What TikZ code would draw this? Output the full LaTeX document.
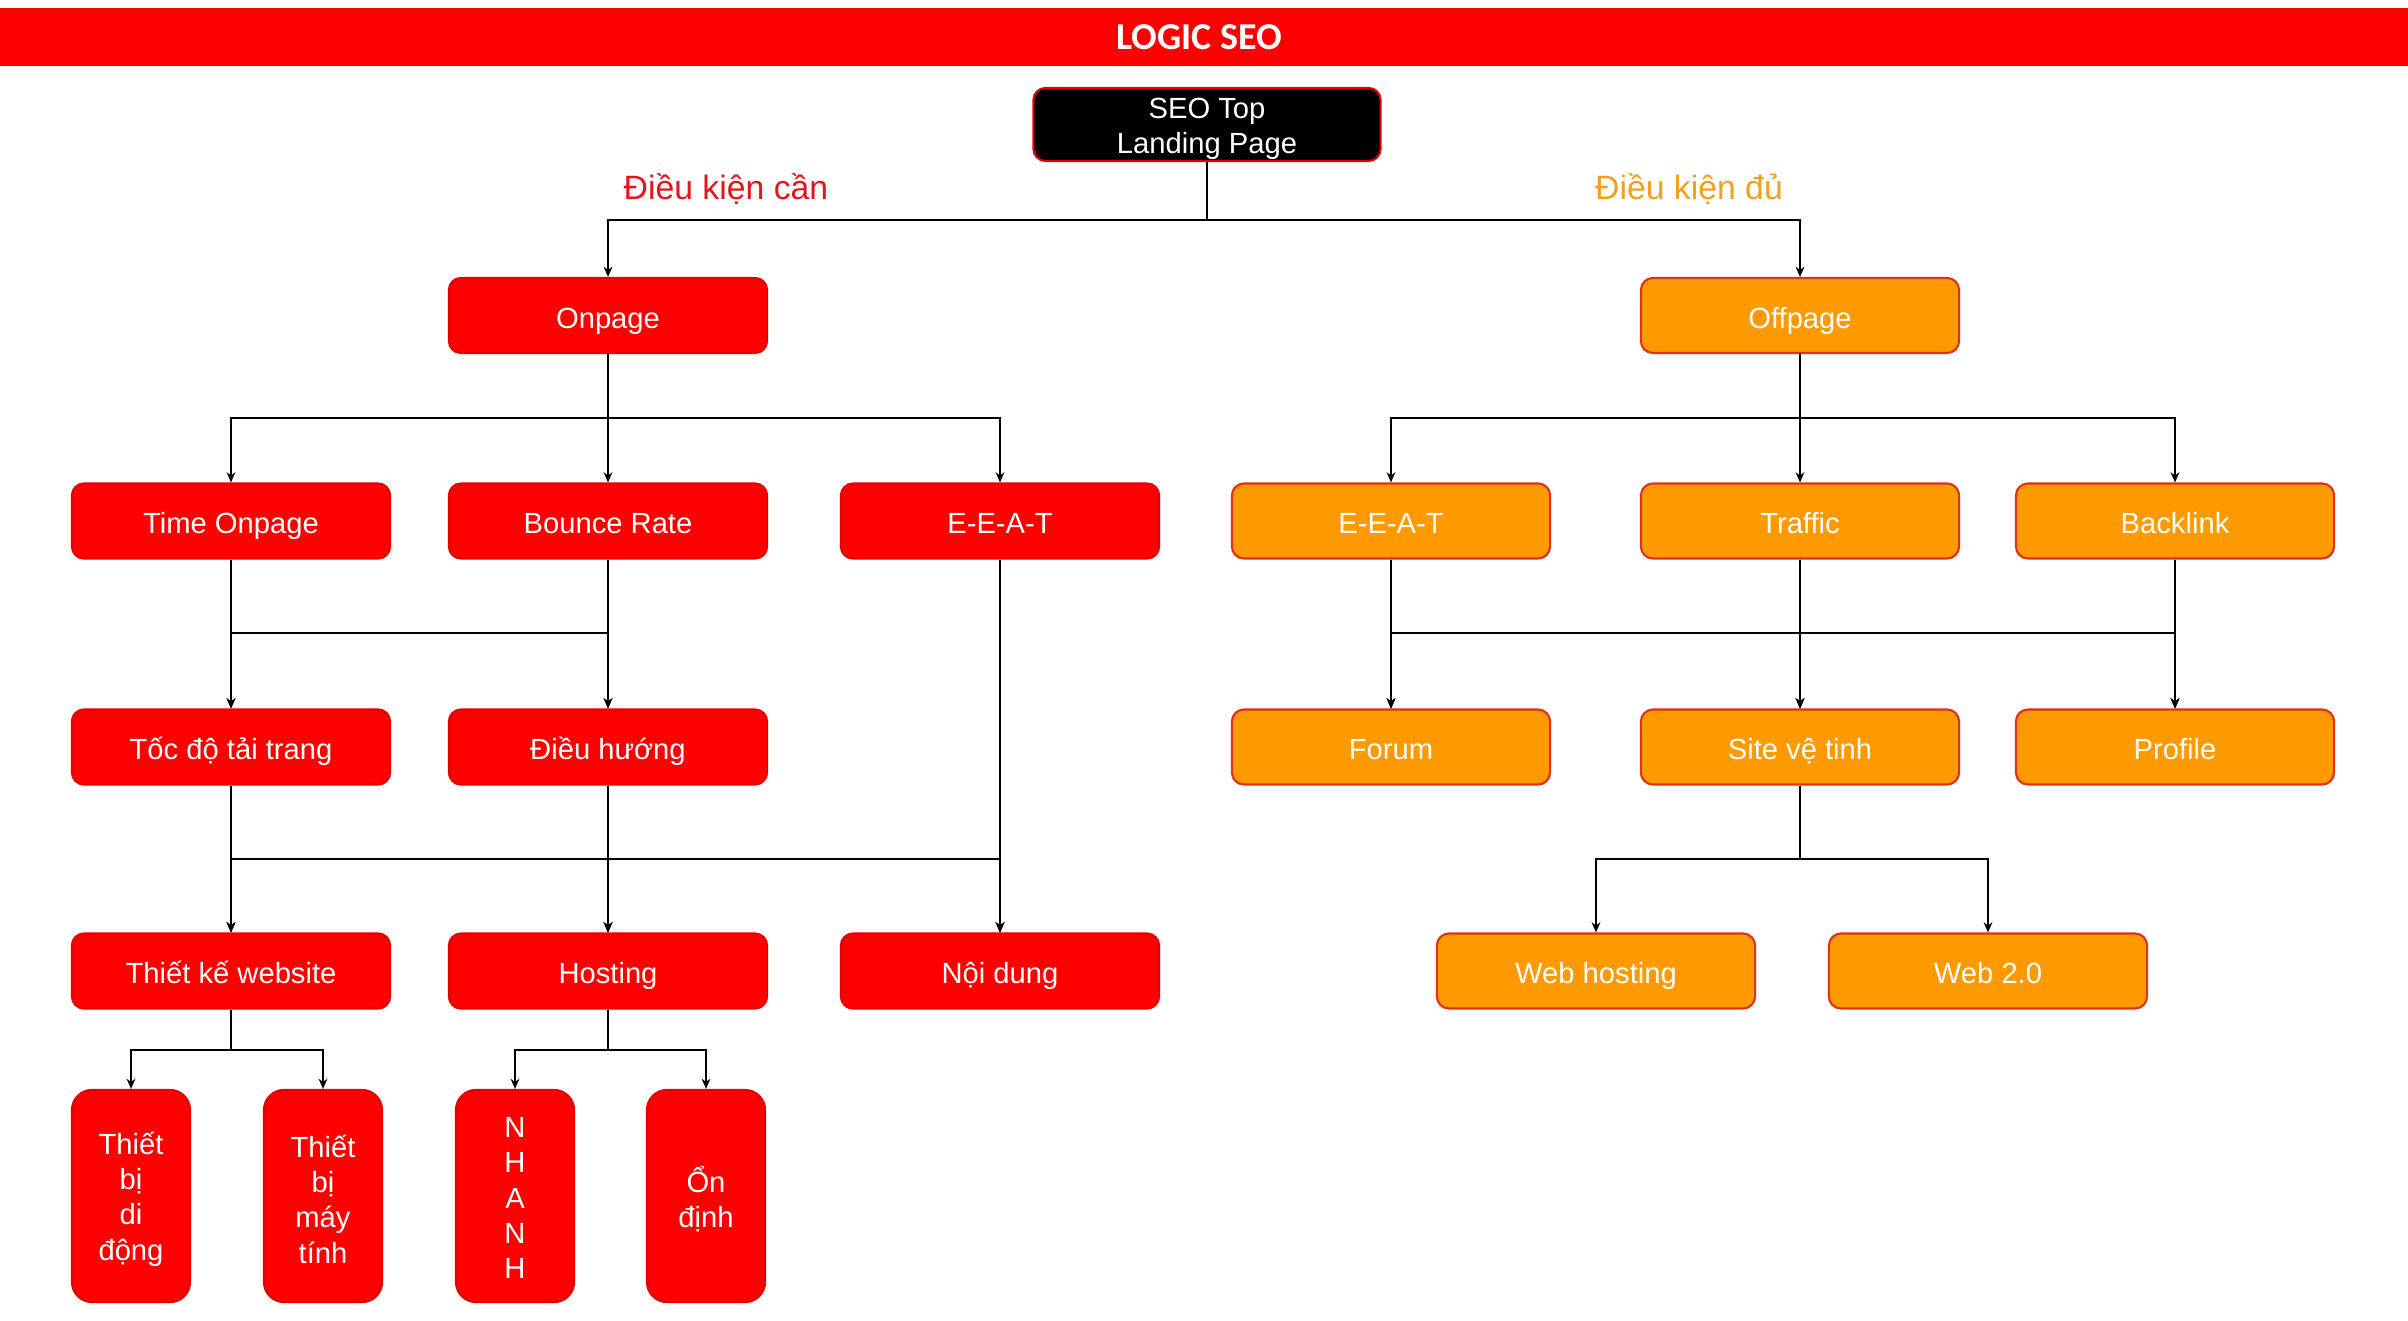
\documentclass[tikz,border=0pt]{standalone}
\usepackage{fontspec}
\setmainfont{Liberation Sans}
\newfontfamily\titlefont{Carlito}
\usetikzlibrary{arrows.meta}
\definecolor{rbox}{HTML}{FF0000}
\definecolor{rline}{HTML}{E60000}
\definecolor{obox}{HTML}{FF9900}
\definecolor{oline}{HTML}{E0301A}
\definecolor{otext}{HTML}{F2A01E}
\definecolor{rtext}{HTML}{E8141C}
\tikzset{
  box/.style={rounded corners=0.12cm, minimum width=3.18cm, minimum height=0.75cm, inner sep=0pt, align=center, text=white, line width=0.6pt, font=\fontsize{8.3}{10}\selectfont},
  oneline/.style={text height=0.716em, text depth=0pt},
  rednode/.style={box, fill=rbox, draw=rline},
  redone/.style={rednode, oneline},
  orangenode/.style={box, oneline, fill=obox, draw=oline},
  tallnode/.style={rednode, rounded corners=0.2cm, minimum width=1.18cm, minimum height=2.12cm},
  boxtext/.style={text=white, align=center, inner sep=0pt, font=\fontsize{8.3}{10}\selectfont},
  arr/.style={line width=0.57pt, -{Stealth[length=2.9pt,width=2.5pt]}}
}
\begin{document}
\begin{tikzpicture}[x=0.01cm,y=-0.01cm]
\useasboundingbox (0,0) rectangle (2408,1321);
\fill[rbox] (0,8) rectangle (2408,66);
\node[text=white, font=\titlefont\bfseries\fontsize{10.8}{13}\selectfont] (title) at (1199,37) {LOGIC SEO};

\node[box, fill=black, draw=rline, minimum width=3.47cm, minimum height=0.73cm] (seo) at (1207,124.5) {};
\node[boxtext] (seotext) at ([yshift=-1.3pt]seo.center) {SEO Top\\Landing Page};
\node[text=rtext, font=\fontsize{9.6}{11}\selectfont] (dkc) at (726,189) {Điều kiện cần};
\node[text=otext, font=\fontsize{9.6}{11}\selectfont] (dkd) at (1689,189) {Điều kiện đủ};

\coordinate (b0) at (0,219.6);
\coordinate (b1) at (0,417.7);
\coordinate (b2) at (0,632.7);
\coordinate (b3) at (0,858.5);
\coordinate (b4) at (0,1050.4);

\node[redone] (onpage) at (608,315.5) {Onpage};
\node[orangenode] (offpage) at (1800,315.5) {Offpage};

\node[redone] (timeon) at (231,521) {Time Onpage};
\node[redone] (bounce) at (608,521) {Bounce Rate};
\node[redone] (eeat) at (1000,521) {E-E-A-T};
\node[orangenode] (oeeat) at (1391,521) {E-E-A-T};
\node[orangenode] (traffic) at (1800,521) {Traffic};
\node[orangenode] (backlink) at (2175,521) {Backlink};

\node[redone] (toc) at (231,747) {Tốc độ tải trang};
\node[redone] (dieuhuong) at (608,747) {Điều hướng};
\node[orangenode] (forum) at (1391,747) {Forum};
\node[orangenode] (site) at (1800,747) {Site vệ tinh};
\node[orangenode] (profile) at (2175,747) {Profile};

\node[redone] (tkw) at (231,971) {Thiết kế website};
\node[redone] (hosting) at (608,971) {Hosting};
\node[redone] (noidung) at (1000,971) {Nội dung};
\node[orangenode] (webhost) at (1596,971) {Web hosting};
\node[orangenode] (web20) at (1988,971) {Web 2.0};

\node[tallnode] (mobile) at (131,1196) {};
\node[boxtext] (mobiletext) at ([yshift=-0.9pt]mobile.center) {Thiết\\bị\\di\\động};
\node[tallnode] (pc) at (323,1196) {};
\node[boxtext] (pctext) at ([yshift=-0.9pt]pc.center) {Thiết\\bị\\máy\\tính};
\node[tallnode] (nhanh) at (515,1196) {};
\node[boxtext] (nhanhtext) at ([yshift=-0.6pt]nhanh.center) {N\\H\\A\\N\\H};
\node[tallnode] (ondinh) at (706,1196) {};
\node[boxtext] (ondinhtext) at ([yshift=-0.9pt]ondinh.center) {Ổn\\định};

% connectors
\foreach \p/\c/\b in {seo/onpage/b0, seo/offpage/b0,
  onpage/timeon/b1, onpage/bounce/b1, onpage/eeat/b1,
  offpage/oeeat/b1, offpage/traffic/b1, offpage/backlink/b1,
  timeon/toc/b2, timeon/dieuhuong/b2, bounce/toc/b2, bounce/dieuhuong/b2,
  oeeat/forum/b2, oeeat/site/b2, oeeat/profile/b2,
  traffic/forum/b2, traffic/site/b2, traffic/profile/b2,
  backlink/forum/b2, backlink/site/b2, backlink/profile/b2,
  toc/tkw/b3, toc/hosting/b3, toc/noidung/b3,
  dieuhuong/tkw/b3, dieuhuong/hosting/b3, dieuhuong/noidung/b3,
  eeat/tkw/b3, eeat/hosting/b3, eeat/noidung/b3,
  site/webhost/b3, site/web20/b3,
  tkw/mobile/b4, tkw/pc/b4, hosting/nhanh/b4, hosting/ondinh/b4}
  {\draw[arr] (\p.south) |- (\c.north |- \b) -- (\c.north);}
\end{tikzpicture}
\end{document}
